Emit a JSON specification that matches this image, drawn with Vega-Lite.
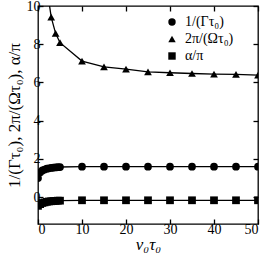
{
  "$schema": "https://vega.github.io/schema/vega-lite/v6.json",
  "width": 220,
  "height": 218,
  "autosize": "none",
  "padding": {"left": 38, "top": 6, "right": 8, "bottom": 30},
  "config": {
    "view": {"stroke": "black", "strokeWidth": 1.3},
    "font": "Liberation Serif",
    "axis": {"grid": false, "domain": false, "tickColor": "black", "tickSize": -5, "tickWidth": 1.3, "labelFont": "Liberation Serif", "labelFontSize": 14, "labelColor": "black", "titleFont": "Liberation Serif", "titleColor": "black", "titleFontWeight": "normal"}
  },
  "data": {"values": [
    {"x": 0, "y": 1.0, "s": "1/(Γτ₀)"},
    {"x": 0.5, "y": 1.3, "s": "1/(Γτ₀)"},
    {"x": 1, "y": 1.4, "s": "1/(Γτ₀)"},
    {"x": 1.5, "y": 1.45, "s": "1/(Γτ₀)"},
    {"x": 2, "y": 1.49, "s": "1/(Γτ₀)"},
    {"x": 2.5, "y": 1.51, "s": "1/(Γτ₀)"},
    {"x": 3, "y": 1.53, "s": "1/(Γτ₀)"},
    {"x": 3.5, "y": 1.55, "s": "1/(Γτ₀)"},
    {"x": 4, "y": 1.56, "s": "1/(Γτ₀)"},
    {"x": 4.5, "y": 1.57, "s": "1/(Γτ₀)"},
    {"x": 5, "y": 1.58, "s": "1/(Γτ₀)"},
    {"x": 10, "y": 1.6, "s": "1/(Γτ₀)"},
    {"x": 15, "y": 1.6, "s": "1/(Γτ₀)"},
    {"x": 20, "y": 1.6, "s": "1/(Γτ₀)"},
    {"x": 25, "y": 1.6, "s": "1/(Γτ₀)"},
    {"x": 30, "y": 1.6, "s": "1/(Γτ₀)"},
    {"x": 35, "y": 1.6, "s": "1/(Γτ₀)"},
    {"x": 40, "y": 1.6, "s": "1/(Γτ₀)"},
    {"x": 45, "y": 1.6, "s": "1/(Γτ₀)"},
    {"x": 50, "y": 1.6, "s": "1/(Γτ₀)"},
    {"x": 2, "y": 11.0, "s": "2π/(Ωτ₀)"},
    {"x": 3, "y": 9.42, "s": "2π/(Ωτ₀)"},
    {"x": 4, "y": 8.57, "s": "2π/(Ωτ₀)"},
    {"x": 5, "y": 8.08, "s": "2π/(Ωτ₀)"},
    {"x": 10, "y": 7.12, "s": "2π/(Ωτ₀)"},
    {"x": 15, "y": 6.82, "s": "2π/(Ωτ₀)"},
    {"x": 20, "y": 6.7, "s": "2π/(Ωτ₀)"},
    {"x": 25, "y": 6.56, "s": "2π/(Ωτ₀)"},
    {"x": 30, "y": 6.51, "s": "2π/(Ωτ₀)"},
    {"x": 35, "y": 6.47, "s": "2π/(Ωτ₀)"},
    {"x": 40, "y": 6.44, "s": "2π/(Ωτ₀)"},
    {"x": 45, "y": 6.42, "s": "2π/(Ωτ₀)"},
    {"x": 50, "y": 6.39, "s": "2π/(Ωτ₀)"},
    {"x": 0, "y": -0.45, "s": "α/π"},
    {"x": 0.5, "y": -0.36, "s": "α/π"},
    {"x": 1, "y": -0.3, "s": "α/π"},
    {"x": 1.5, "y": -0.27, "s": "α/π"},
    {"x": 2, "y": -0.24, "s": "α/π"},
    {"x": 2.5, "y": -0.22, "s": "α/π"},
    {"x": 3, "y": -0.21, "s": "α/π"},
    {"x": 3.5, "y": -0.2, "s": "α/π"},
    {"x": 4, "y": -0.19, "s": "α/π"},
    {"x": 4.5, "y": -0.18, "s": "α/π"},
    {"x": 5, "y": -0.18, "s": "α/π"},
    {"x": 10, "y": -0.16, "s": "α/π"},
    {"x": 15, "y": -0.16, "s": "α/π"},
    {"x": 20, "y": -0.16, "s": "α/π"},
    {"x": 25, "y": -0.16, "s": "α/π"},
    {"x": 30, "y": -0.16, "s": "α/π"},
    {"x": 35, "y": -0.16, "s": "α/π"},
    {"x": 40, "y": -0.16, "s": "α/π"},
    {"x": 45, "y": -0.16, "s": "α/π"},
    {"x": 50, "y": -0.16, "s": "α/π"}
  ]},
  "layer": [
    {
      "mark": {"type": "line", "color": "black", "strokeWidth": 1.3, "clip": true},
      "encoding": {
        "x": {"field": "x", "type": "quantitative", "scale": {"domain": [0, 50], "nice": false}, "axis": {"values": [0, 10, 20, 30, 40, 50], "labelPadding": 3, "title": "v₀τ₀", "titleFontSize": 17, "titleFontStyle": "italic", "titlePadding": 0}},
        "y": {"field": "y", "type": "quantitative", "scale": {"domain": [-1.4, 10], "nice": false, "zero": false}, "axis": {"values": [0, 2, 4, 6, 8, 10], "labelPadding": 3, "title": "1/(Γτ₀), 2π/(Ωτ₀), α/π", "titleFontSize": 17, "titlePadding": 3}},
        "detail": {"field": "s"}
      }
    },
    {
      "mark": {"type": "point", "filled": true, "opacity": 1, "size": 60, "clip": true},
      "encoding": {
        "x": {"field": "x", "type": "quantitative", "axis": {"orient": "top", "values": [0, 10, 20, 30, 40, 50], "labels": false, "title": null}},
        "y": {"field": "y", "type": "quantitative", "axis": {"orient": "right", "values": [0, 2, 4, 6, 8, 10], "labels": false, "title": null}},
        "color": {"value": "black"},
        "shape": {"field": "s", "type": "nominal", "scale": {"domain": ["1/(Γτ₀)", "2π/(Ωτ₀)", "α/π"], "range": ["circle", "triangle-up", "square"]},
          "legend": {"orient": "none", "legendX": 127, "legendY": 9, "title": null, "padding": 0, "labelFont": "Liberation Serif", "labelFontSize": 14, "labelColor": "black", "symbolSize": 55, "symbolFillColor": "black", "symbolStrokeColor": "black", "rowPadding": 3, "labelOffset": 6}}
      }
    }
  ],
  "resolve": {"axis": {"x": "independent", "y": "independent"}}
}
